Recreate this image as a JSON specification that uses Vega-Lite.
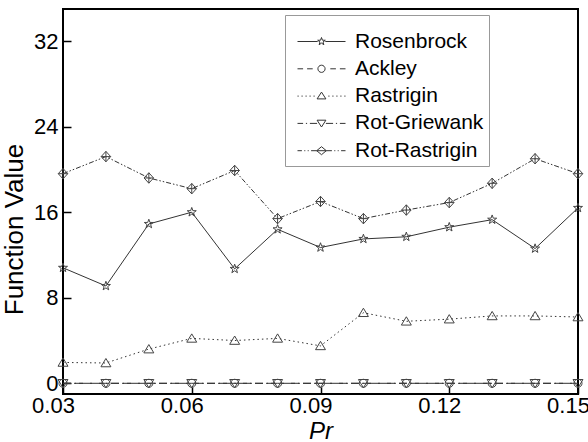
{
  "$schema": "https://vega.github.io/schema/vega-lite/v6.json",
  "width": 515,
  "height": 385,
  "autosize": {"type": "none"},
  "padding": {"left": 63, "top": 9, "right": 10, "bottom": 48},
  "background": "white",
  "config": {
    "view": {"stroke": "#000", "strokeWidth": 2},
    "font": "Liberation Sans"
  },
  "data": {
    "values": [
      {"Pr": 0.03, "series": "Rosenbrock", "value": 10.8},
      {"Pr": 0.04, "series": "Rosenbrock", "value": 9.1},
      {"Pr": 0.05, "series": "Rosenbrock", "value": 14.9},
      {"Pr": 0.06, "series": "Rosenbrock", "value": 16.0},
      {"Pr": 0.07, "series": "Rosenbrock", "value": 10.7},
      {"Pr": 0.08, "series": "Rosenbrock", "value": 14.4},
      {"Pr": 0.09, "series": "Rosenbrock", "value": 12.7},
      {"Pr": 0.10, "series": "Rosenbrock", "value": 13.5},
      {"Pr": 0.11, "series": "Rosenbrock", "value": 13.7},
      {"Pr": 0.12, "series": "Rosenbrock", "value": 14.6},
      {"Pr": 0.13, "series": "Rosenbrock", "value": 15.3},
      {"Pr": 0.14, "series": "Rosenbrock", "value": 12.6},
      {"Pr": 0.15, "series": "Rosenbrock", "value": 16.4},
      {"Pr": 0.03, "series": "Ackley", "value": 0},
      {"Pr": 0.04, "series": "Ackley", "value": 0},
      {"Pr": 0.05, "series": "Ackley", "value": 0},
      {"Pr": 0.06, "series": "Ackley", "value": 0},
      {"Pr": 0.07, "series": "Ackley", "value": 0},
      {"Pr": 0.08, "series": "Ackley", "value": 0},
      {"Pr": 0.09, "series": "Ackley", "value": 0},
      {"Pr": 0.10, "series": "Ackley", "value": 0},
      {"Pr": 0.11, "series": "Ackley", "value": 0},
      {"Pr": 0.12, "series": "Ackley", "value": 0},
      {"Pr": 0.13, "series": "Ackley", "value": 0},
      {"Pr": 0.14, "series": "Ackley", "value": 0},
      {"Pr": 0.15, "series": "Ackley", "value": 0},
      {"Pr": 0.03, "series": "Rastrigin", "value": 1.95},
      {"Pr": 0.04, "series": "Rastrigin", "value": 1.9},
      {"Pr": 0.05, "series": "Rastrigin", "value": 3.2},
      {"Pr": 0.06, "series": "Rastrigin", "value": 4.2},
      {"Pr": 0.07, "series": "Rastrigin", "value": 4.0},
      {"Pr": 0.08, "series": "Rastrigin", "value": 4.2},
      {"Pr": 0.09, "series": "Rastrigin", "value": 3.5},
      {"Pr": 0.10, "series": "Rastrigin", "value": 6.6},
      {"Pr": 0.11, "series": "Rastrigin", "value": 5.8},
      {"Pr": 0.12, "series": "Rastrigin", "value": 6.0},
      {"Pr": 0.13, "series": "Rastrigin", "value": 6.3},
      {"Pr": 0.14, "series": "Rastrigin", "value": 6.3},
      {"Pr": 0.15, "series": "Rastrigin", "value": 6.2},
      {"Pr": 0.03, "series": "Rot-Griewank", "value": 0},
      {"Pr": 0.04, "series": "Rot-Griewank", "value": 0},
      {"Pr": 0.05, "series": "Rot-Griewank", "value": 0},
      {"Pr": 0.06, "series": "Rot-Griewank", "value": 0},
      {"Pr": 0.07, "series": "Rot-Griewank", "value": 0},
      {"Pr": 0.08, "series": "Rot-Griewank", "value": 0},
      {"Pr": 0.09, "series": "Rot-Griewank", "value": 0},
      {"Pr": 0.10, "series": "Rot-Griewank", "value": 0},
      {"Pr": 0.11, "series": "Rot-Griewank", "value": 0},
      {"Pr": 0.12, "series": "Rot-Griewank", "value": 0},
      {"Pr": 0.13, "series": "Rot-Griewank", "value": 0},
      {"Pr": 0.14, "series": "Rot-Griewank", "value": 0},
      {"Pr": 0.15, "series": "Rot-Griewank", "value": 0},
      {"Pr": 0.03, "series": "Rot-Rastrigin", "value": 19.6},
      {"Pr": 0.04, "series": "Rot-Rastrigin", "value": 21.2},
      {"Pr": 0.05, "series": "Rot-Rastrigin", "value": 19.2},
      {"Pr": 0.06, "series": "Rot-Rastrigin", "value": 18.2},
      {"Pr": 0.07, "series": "Rot-Rastrigin", "value": 19.9},
      {"Pr": 0.08, "series": "Rot-Rastrigin", "value": 15.4},
      {"Pr": 0.09, "series": "Rot-Rastrigin", "value": 17.0},
      {"Pr": 0.10, "series": "Rot-Rastrigin", "value": 15.4},
      {"Pr": 0.11, "series": "Rot-Rastrigin", "value": 16.2},
      {"Pr": 0.12, "series": "Rot-Rastrigin", "value": 16.9},
      {"Pr": 0.13, "series": "Rot-Rastrigin", "value": 18.7},
      {"Pr": 0.14, "series": "Rot-Rastrigin", "value": 21.0},
      {"Pr": 0.15, "series": "Rot-Rastrigin", "value": 19.6}
    ]
  },
  "encoding": {
    "x": {
      "field": "Pr",
      "type": "quantitative",
      "scale": {"domain": [0.03, 0.15], "nice": false, "zero": false},
      "axis": {
        "title": "Pr",
        "values": [0.03, 0.06, 0.09, 0.12, 0.15],
        "format": ".2f",
        "grid": false,
        "domain": false,
        "tickSize": -7,
        "tickWidth": 1.5,
        "tickColor": "#000",
        "labelFlush": false,
        "labelPadding": 8,
        "labelOffset": -10,
        "labelFontSize": 22,
        "labelColor": "#000",
        "labelFont": "Liberation Sans",
        "titleFont": "Liberation Sans",
        "titleFontSize": 24,
        "titleFontStyle": "italic",
        "titleFontWeight": "normal",
        "titleColor": "#000",
        "titleBaseline": "alphabetic",
        "titleY": 44
      }
    },
    "y": {
      "field": "value",
      "type": "quantitative",
      "scale": {"domain": [-1, 35], "nice": false, "zero": false},
      "axis": {
        "title": "Function Value",
        "values": [0, 8, 16, 24, 32],
        "grid": false,
        "domain": false,
        "tickSize": -8,
        "tickWidth": 1.5,
        "tickColor": "#000",
        "labelPadding": 13,
        "labelFontSize": 22,
        "labelColor": "#000",
        "labelFont": "Liberation Sans",
        "titleFont": "Liberation Sans",
        "titleFontSize": 26,
        "titleFontWeight": "normal",
        "titleColor": "#000",
        "titleBaseline": "alphabetic",
        "titleAngle": -90,
        "titleX": -41,
        "titleY": 220
      }
    }
  },
  "layer": [
    {
      "transform": [{"filter": "datum.series === 'Rosenbrock'"}],
      "mark": {"type": "line", "strokeWidth": 1, "color": "#333"},
      "encoding": {}
    },
    {
      "transform": [{"filter": "datum.series === 'Ackley'"}],
      "mark": {"type": "line", "strokeWidth": 1, "color": "#333", "strokeDash": [8, 4]},
      "encoding": {}
    },
    {
      "transform": [{"filter": "datum.series === 'Rastrigin'"}],
      "mark": {"type": "line", "strokeWidth": 1, "color": "#333", "strokeDash": [1.5, 3]},
      "encoding": {}
    },
    {
      "transform": [{"filter": "datum.series === 'Rot-Griewank'"}],
      "mark": {"type": "line", "strokeWidth": 1, "color": "#333", "strokeDash": [8, 3, 2, 3]},
      "encoding": {}
    },
    {
      "transform": [{"filter": "datum.series === 'Rot-Rastrigin'"}],
      "mark": {"type": "line", "strokeWidth": 1, "color": "#333", "strokeDash": [5, 2, 1.5, 2, 1.5, 2]},
      "encoding": {}
    },
    {
      "transform": [{"filter": "datum.series === 'Rosenbrock'"}],
      "mark": {"type": "point", "filled": false, "size": 90, "strokeWidth": 1, "color": "#444", "opacity": 1,
        "shape": "M0,-1L0.235,-0.324L0.951,-0.309L0.38,0.124L0.588,0.809L0,0.4L-0.588,0.809L-0.38,0.124L-0.951,-0.309L-0.235,-0.324Z"},
      "encoding": {}
    },
    {
      "transform": [{"filter": "datum.series === 'Ackley'"}],
      "mark": {"type": "point", "filled": false, "size": 90, "strokeWidth": 1, "color": "#444", "opacity": 1,
        "shape": "M0.85,0A0.85,0.85 0 1,1 -0.85,0A0.85,0.85 0 1,1 0.85,0Z"},
      "encoding": {}
    },
    {
      "transform": [{"filter": "datum.series === 'Rastrigin'"}],
      "mark": {"type": "point", "filled": false, "size": 90, "strokeWidth": 1, "color": "#444", "opacity": 1,
        "shape": "M0,-0.95L1.05,0.8L-1.05,0.8Z"},
      "encoding": {}
    },
    {
      "transform": [{"filter": "datum.series === 'Rot-Griewank'"}],
      "mark": {"type": "point", "filled": false, "size": 90, "strokeWidth": 1, "color": "#444", "opacity": 1,
        "shape": "M0,0.95L1.05,-0.8L-1.05,-0.8Z"},
      "encoding": {}
    },
    {
      "transform": [{"filter": "datum.series === 'Rot-Rastrigin'"}],
      "mark": {"type": "point", "filled": false, "size": 90, "strokeWidth": 1, "color": "#444", "opacity": 1,
        "shape": "M0,-1.1L1,0L0,1.1L-1,0ZM0,-1.1L0,1.1M-1,0L1,0"},
      "encoding": {}
    },
    {
      "mark": {"type": "point", "filled": false, "size": 64, "strokeWidth": 1, "color": "#333", "opacity": 0},
      "encoding": {
        "shape": {
          "field": "series",
          "type": "nominal",
          "scale": {
            "domain": ["Rosenbrock", "Ackley", "Rastrigin", "Rot-Griewank", "Rot-Rastrigin"],
            "range": [
              "M-6,0L-0.95,0M0.95,0L6,0M0,-1L0.235,-0.324L0.951,-0.309L0.38,0.124L0.588,0.809L0,0.4L-0.588,0.809L-0.38,0.124L-0.951,-0.309L-0.235,-0.324Z",
              "M-6,0L-4.6,0M-3.6,0L-2.2,0M2.2,0L3.6,0M4.6,0L6,0M0.9,0A0.9,0.9 0 1,1 -0.9,0A0.9,0.9 0 1,1 0.9,0Z",
              "M-6,0L-5.7,0M-5,0L-4.7,0M-4,0L-3.7,0M-3,0L-2.7,0M-2,0L-1.7,0M1.7,0L2,0M2.7,0L3,0M3.7,0L4,0M4.7,0L5,0M5.7,0L6,0M0,-1L1.1,0.7L-1.1,0.7Z",
              "M-6,0L-4.6,0M-3.9,0L-3.6,0M-2.9,0L-1.1,0M1.1,0L2.9,0M3.6,0L3.9,0M4.6,0L6,0M0,0.9L1.1,-0.8L-1.1,-0.8Z",
              "M-6,0L-4.9,0M-4.3,0L-4.05,0M-3.45,0L-3.2,0M-2.6,0L-1.2,0M1.2,0L2.6,0M3.2,0L3.45,0M4.05,0L4.3,0M4.9,0L6,0M0,-1L1.2,0L0,1L-1.2,0ZM-1.2,0L1.2,0"
            ]
          },
          "legend": {
            "title": " ",
            "titleFontSize": 10,
            "titlePadding": 1,
            "orient": "none",
            "legendX": 222,
            "legendY": 6,
            "padding": 5,
            "strokeColor": "#999",
            "fillColor": "white",
            "symbolSize": 64,
            "symbolOpacity": 1,
            "symbolStrokeColor": "#333",
            "symbolStrokeWidth": 1,
            "symbolOffset": 21,
            "labelOffset": 23,
            "labelFontSize": 21,
            "labelFont": "Liberation Sans",
            "labelColor": "#000",
            "rowPadding": 5.3
          }
        }
      }
    }
  ]
}
